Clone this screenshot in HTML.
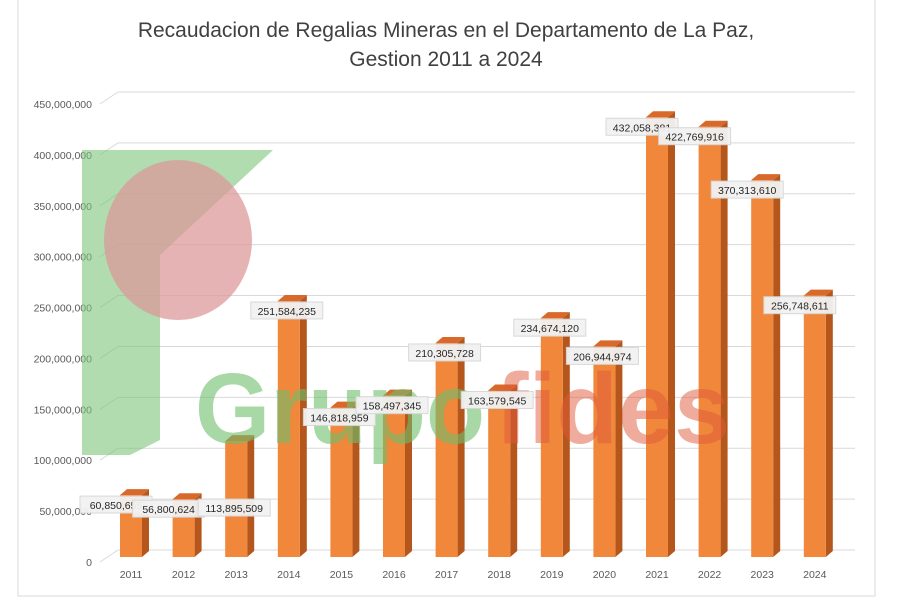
<!DOCTYPE html>
<html><head><meta charset="utf-8"><style>
body{margin:0;background:#fff;}
svg{display:block;font-family:"Liberation Sans",sans-serif;}
</style></head><body>
<svg id="chart" width="900" height="600" viewBox="0 0 900 600">
<rect x="18" y="-2" width="857" height="598" fill="#fff" stroke="#d9d9d9"/>
<text x="446" y="37" font-size="21" fill="#404040" text-anchor="middle">Recaudacion de Regalias Mineras en el Departamento de La Paz,</text>
<text x="446" y="66" font-size="21" fill="#404040" text-anchor="middle">Gestion 2011 a 2024</text>
<g id="grid"></g>
<g id="bars"></g>
<g id="watermark">
<polygon points="82,150 273,150 160,255 160,440 130,455 82,455" fill="#7cc47a" opacity="0.6"/>
<ellipse cx="178" cy="240" rx="74" ry="80" fill="#dc9a9a" opacity="0.75"/>
<text x="195" y="443" font-size="100" font-weight="bold" fill="#6fbf6c" opacity="0.6" textLength="290" lengthAdjust="spacingAndGlyphs">Grupo</text>
<text x="495" y="443" font-size="100" font-weight="bold" fill="#e05a3a" opacity="0.5" textLength="235" lengthAdjust="spacingAndGlyphs">fides</text>
</g>
<g id="labels"></g>
</svg>
<script>
const years=["2011","2012","2013","2014","2015","2016","2017","2018","2019","2020","2021","2022","2023","2024"];
const values=[60850655,56800624,113895509,251584235,146818959,158497345,210305728,163579545,234674120,206944974,432058381,422769916,370313610,256748611];
const ticks=[0,50000000,100000000,150000000,200000000,250000000,300000000,350000000,400000000,450000000];
const NS="http://www.w3.org/2000/svg";
const y0=557, pxPer=(562-104)/450000000;
const y=v=>y0-v*pxPer;
const x=i=>131+i*52.6;
const fmt=n=>n.toLocaleString("en-US");
function mk(t,a,p){const e=document.createElementNS(NS,t);for(const k in a)e.setAttribute(k,a[k]);p.appendChild(e);return e;}
const g=document.getElementById("grid"),b=document.getElementById("bars"),l=document.getElementById("labels");
ticks.forEach(t=>{
 const yy=y(t)+5;
 const ln=mk("polyline",{points:`100,${yy} 118,${yy-12} 855,${yy-12}`,fill:"none",stroke:"#d9d9d9","stroke-width":1},g);
 
 
 const tx=mk("text",{x:92,y:yy+4,"font-size":10.5,fill:"#595959","text-anchor":"end"},g);
 tx.textContent=fmt(t);
 
 
});
years.forEach((yr,i)=>{
 const cx=x(i),top=y(values[i]),w=22,d=7,dy=6,L=cx-w/2;
 const grp=mk("g",{},b);
 
 
 mk("polygon",{points:`${L+w},${top} ${L+w+d},${top-dy} ${L+w+d},${y0-dy} ${L+w},${y0}`,fill:"#b5561c"},grp);
 mk("polygon",{points:`${L},${top} ${L+d},${top-dy} ${L+w+d},${top-dy} ${L+w},${top}`,fill:"#d9692a"},grp);
 mk("rect",{x:L,y:top,width:w,height:y0-top,fill:"#f0873a"},grp);
 const tx=mk("text",{x:cx,y:578,"font-size":10.5,fill:"#595959","text-anchor":"middle"},g);
 tx.textContent=yr;
 
 
});
years.forEach((yr,i)=>{
 const cx=x(i),top=y(values[i]);
 const ly=(i===2?y(values[i])+67:top+10), lx=cx-(i<2||i>9?15:2);
 const lg=mk("g",{},l);
 
 
 mk("rect",{x:lx-36,y:ly-9,width:72,height:17,fill:"#f2f2f2",stroke:"#d6d6d6",opacity:0.95},lg);
 const vt=mk("text",{x:lx,y:ly+4,"font-size":10.5,fill:"#262626","text-anchor":"middle"},lg);
 vt.textContent=fmt(values[i]);
});
</script>
</body></html>
